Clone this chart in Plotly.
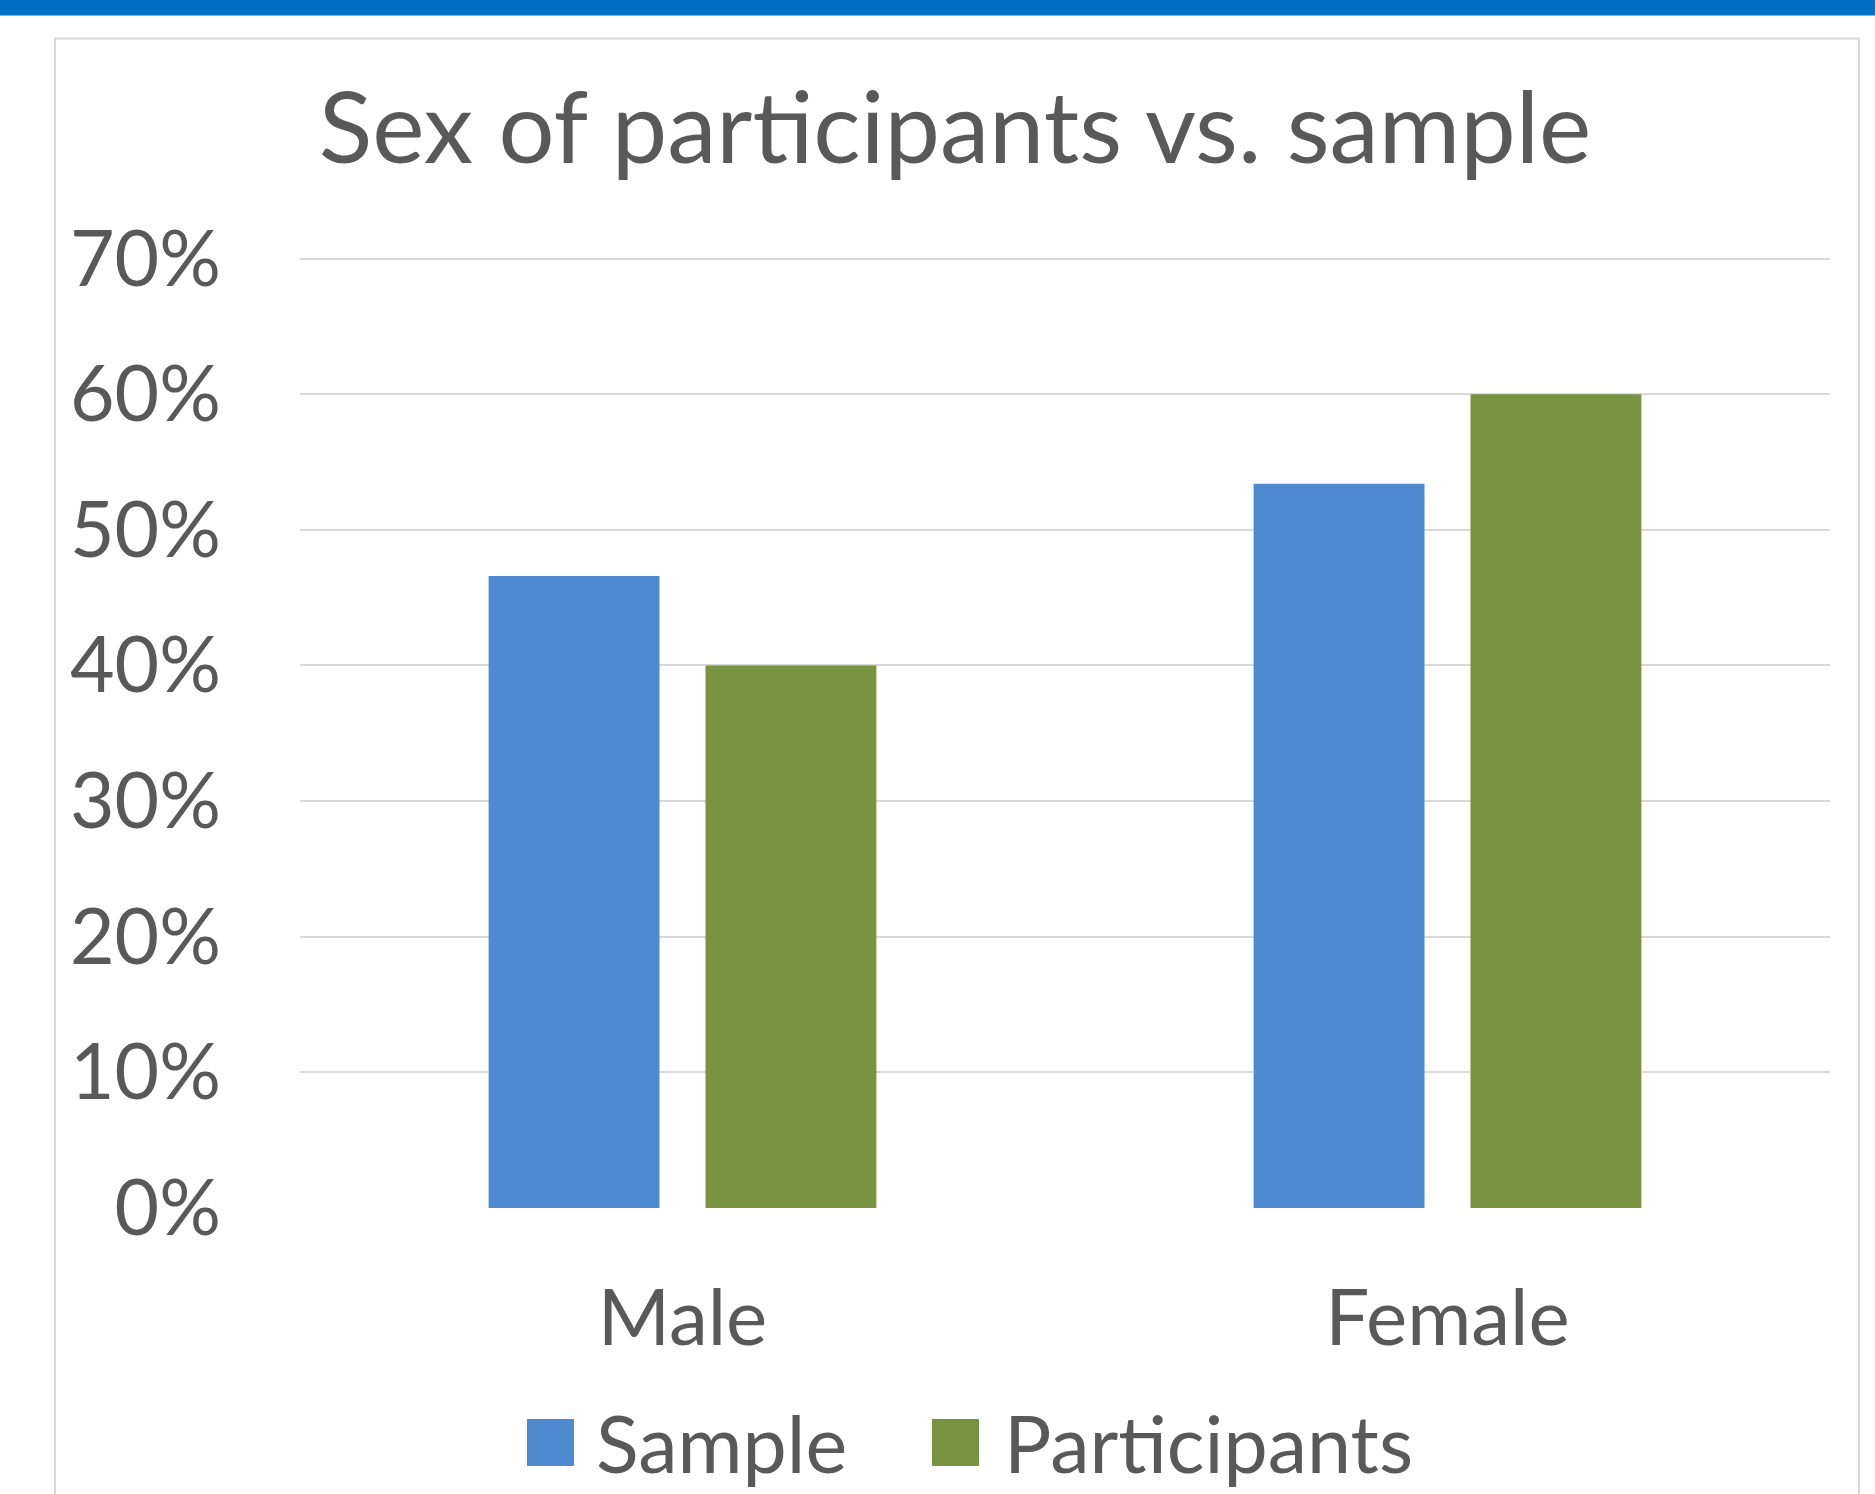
import plotly.graph_objects as go

categories = ["Male", "Female"]
sample_vals = [0.466, 0.534]
participant_vals = [0.400, 0.600]
series_names = ["Sample", "Participants"]
tick_vals = [0, 0.1, 0.2, 0.3, 0.4, 0.5, 0.6, 0.7]
tick_text = ["0%", "10%", "20%", "30%", "40%", "50%", "60%", "70%"]
title_text = "Sex of participants vs. sample"

BLUE = "#4E8AD0"
GREEN = "#789440"
TEXT = "#595959"
GRID = "#D9D9D9"
FONT = "Lato"

W, H = 1875, 1494
L, R, B = 300, 1830, 1208          # plot area in pixels
Y70_PX = 259                        # pixel row of the 70% gridline
Y_TOP = 0.71                        # axis top (a little above 70% so the line is drawn)
PX_PER_UNIT = (B - Y70_PX) / 0.7
T = B - Y_TOP * PX_PER_UNIT


def px(x):
    return (x - L) / (R - L)


def py(y):
    return (B - y) / (B - T)


fig = go.Figure()
fig.add_trace(go.Bar(x=categories, y=sample_vals, name=series_names[0],
                     marker=dict(color=BLUE, line=dict(width=0)), showlegend=False))
fig.add_trace(go.Bar(x=categories, y=participant_vals, name=series_names[1],
                     marker=dict(color=GREEN, line=dict(width=0)), showlegend=False))

shapes = [
    dict(type="rect", xref="paper", yref="paper", x0=px(-5), x1=px(W + 5), y0=py(-5), y1=py(16),
         fillcolor="#0070C5", line=dict(width=0), layer="below"),
    dict(type="rect", xref="paper", yref="paper", x0=px(55), x1=px(1859), y0=py(39), y1=py(1600),
         fillcolor="rgba(0,0,0,0)", line=dict(color=GRID, width=2), layer="below"),
    dict(type="rect", xref="paper", yref="paper", x0=px(527), x1=px(574), y0=py(1419), y1=py(1466),
         fillcolor=BLUE, line=dict(width=0)),
    dict(type="rect", xref="paper", yref="paper", x0=px(932), x1=px(979), y0=py(1419), y1=py(1466),
         fillcolor=GREEN, line=dict(width=0)),
]

annotations = [
    dict(text=series_names[0], xref="paper", yref="paper", x=px(594), y=py(1442),
         xanchor="left", yanchor="middle", showarrow=False,
         font=dict(family=FONT, size=79, color=TEXT)),
    dict(text=series_names[1], xref="paper", yref="paper", x=px(1002), y=py(1442),
         xanchor="left", yanchor="middle", showarrow=False,
         font=dict(family=FONT, size=79, color=TEXT)),
]

fig.update_layout(
    width=W, height=H,
    margin=dict(l=L, r=W - R, t=T, b=H - B, autoexpand=False),
    paper_bgcolor="white", plot_bgcolor="white",
    title=dict(text=title_text, x=955 / W, xanchor="center", xref="container",
               y=1 - 128.5 / H, yanchor="middle", yref="container",
               font=dict(family=FONT, size=99, color=TEXT)),
    barmode="group", bargap=0.433, bargroupgap=0.212,
    shapes=shapes, annotations=annotations,
    font=dict(family=FONT, color=TEXT),
    xaxis=dict(showgrid=False, showline=False, zeroline=False, ticks="",
               tickfont=dict(family=FONT, size=78, color=TEXT), ticklabelstandoff=58),
    yaxis=dict(range=[0, Y_TOP], tickvals=tick_vals, ticktext=tick_text,
               showgrid=True, gridcolor=GRID, gridwidth=1.5, zeroline=False, showline=False,
               ticks="", tickfont=dict(family=FONT, size=77, color=TEXT), ticklabelstandoff=78),
)

fig.write_html("out.html", config={"displayModeBar": False},
               post_script="document.body.style.margin='0';")
